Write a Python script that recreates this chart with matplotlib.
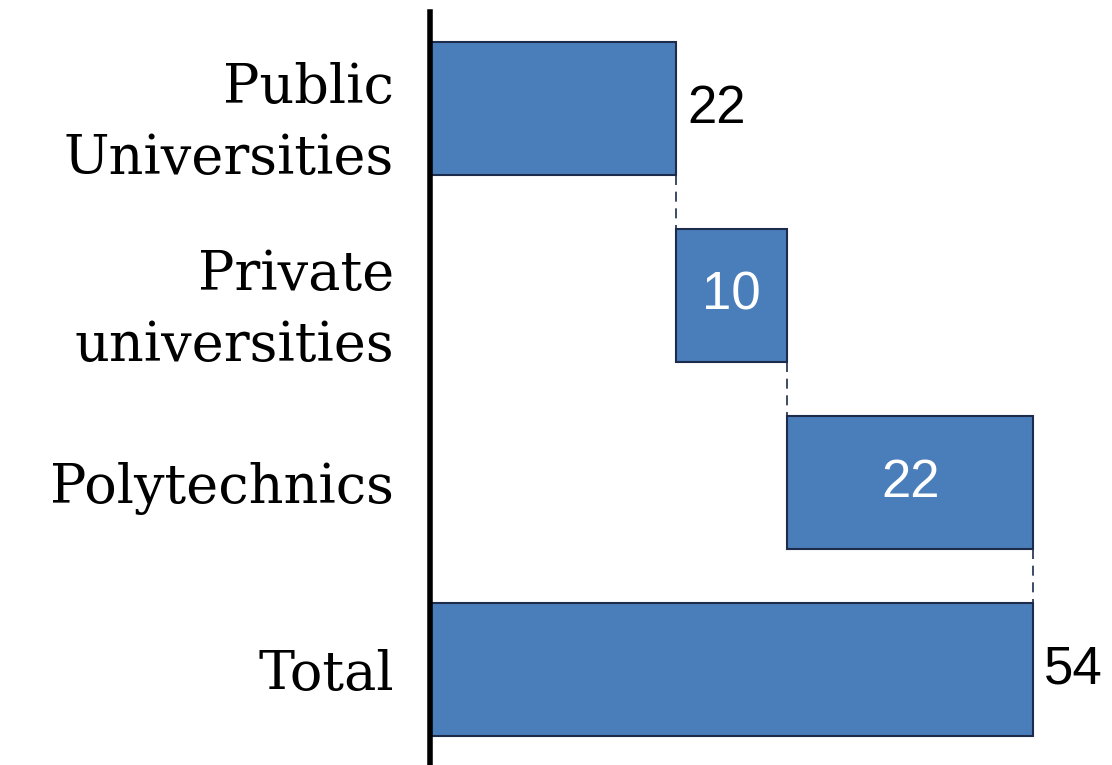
import matplotlib
matplotlib.use("Agg")
import matplotlib.pyplot as plt

# --- Data ---
categories = ["Public\nUniversities", "Private\nuniversities", "Polytechnics", "Total"]
steps = [22, 10, 22]
total = sum(steps)

# Waterfall: each step starts where the previous one ended, total starts at 0
values = steps + [total]
starts = [0, 22, 32, 0]
label_inside = [False, True, True, False]

# --- Plotting ---
fig = plt.figure(figsize=(11.12, 7.65), dpi=100)
ax = fig.add_axes([0.3867, 0.0, 0.6133, 0.984])

ypos = list(range(len(categories)))
ax.barh(ypos, values, left=starts, height=0.71,
        color="#4a7ebb", edgecolor="#1c2c4a", linewidth=1.5, zorder=2)

# Connectors between consecutive bars
for i in range(len(categories) - 1):
    x_end = starts[i] + values[i]
    ax.plot([x_end, x_end], [i + 0.355, i + 1 - 0.355], color="#1c2c4a",
            lw=1.2, ls=(0, (6, 4)), zorder=1)

# Value labels
for i, (s, v, inside) in enumerate(zip(starts, values, label_inside)):
    if inside:
        ax.text(s + v / 2, i, str(v), ha="center", va="center",
                color="white", fontsize=38, family="Liberation Sans")
    else:
        ax.text(s + v + 1.0, i, str(v), ha="left", va="center",
                color="black", fontsize=38, family="Liberation Sans")

ax.set_yticks(ypos)
ax.set_yticklabels(categories, family="DejaVu Serif", fontsize=39,
                   linespacing=1.45)
ax.set_ylim(3.51, -0.516)
ax.set_xlim(0, 61.06)
ax.tick_params(axis="y", length=0, pad=26)
ax.set_xticks([])

for side in ["top", "right", "bottom"]:
    ax.spines[side].set_visible(False)
ax.spines["left"].set_linewidth(4)
ax.spines["left"].set_color("black")

fig.savefig("out.png", dpi=100)
